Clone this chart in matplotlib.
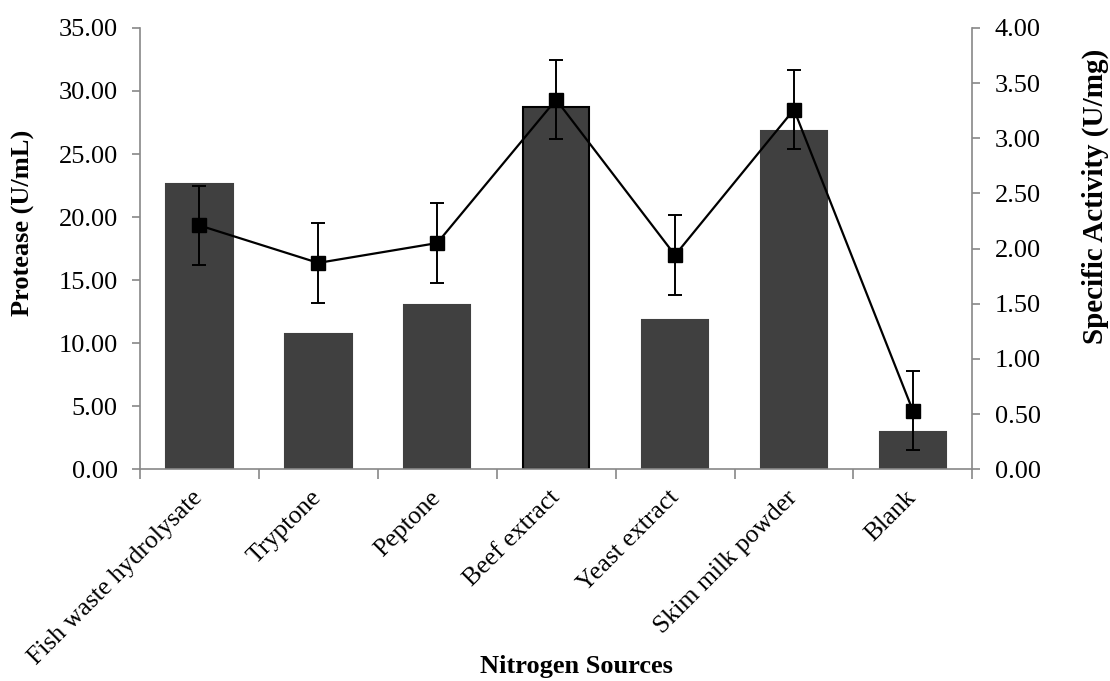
import numpy as np
import matplotlib.pyplot as plt

plt.rcParams['font.family'] = ['Liberation Serif', 'DejaVu Serif']

sources = ['Fish waste hydrolysate', 'Tryptone', 'Peptone', 'Beef extract',
           'Yeast extract', 'Skim milk powder', 'Blank']
protease = [22.6, 10.7, 13.05, 28.75, 11.85, 26.85, 2.95]
specific_activity = [2.21, 1.87, 2.05, 3.35, 1.94, 3.26, 0.53]
sa_err = [0.36, 0.36, 0.36, 0.36, 0.36, 0.36, 0.36]

fig = plt.figure(figsize=(11.1, 6.81), dpi=100)
ax = fig.add_axes([0.126, 0.311, 0.75, 0.648])
ax2 = ax.twinx()

x = np.arange(len(sources))
edges = ['black' if s == 'Beef extract' else '#404040' for s in sources]
ax.bar(x, protease, width=0.56, color='#404040', edgecolor=edges, linewidth=1.5, zorder=2)

ax2.errorbar(x, specific_activity, yerr=sa_err, color='black', marker='s',
             markersize=10, linewidth=1.6, elinewidth=1.4, capsize=5, capthick=1.4, zorder=3)

ax.set_xlim(-0.5, len(sources) - 0.5)
ax.set_ylim(0, 35)
ax2.set_ylim(0, 4)
ax.set_yticks(np.arange(0, 35.1, 5))
ax.set_yticklabels([f'{v:.2f}' for v in np.arange(0, 35.1, 5)])
ax2.set_yticks(np.arange(0, 4.01, 0.5))
ax2.set_yticklabels([f'{v:.2f}' for v in np.arange(0, 4.01, 0.5)])

# category labels centered, tick marks at boundaries
ax.set_xticks(x)
ax.set_xticklabels(sources, rotation=45, ha='right', va='center',
                   rotation_mode='anchor', fontsize=18.5)
ax.tick_params(axis='x', which='major', length=0, pad=18)
ax.set_xticks(np.arange(-0.5, len(sources), 1), minor=True)
ax.tick_params(axis='x', which='minor', length=7, color='#888888', width=1.2)

for a in (ax, ax2):
    a.spines['top'].set_visible(False)
    for s in ('left', 'right', 'bottom'):
        a.spines[s].set_color('#888888')
        a.spines[s].set_linewidth(1.2)
    a.tick_params(axis='y', labelsize=19, length=6, color='#888888', width=1.2, pad=10)
ax2.spines['left'].set_visible(False)
ax2.spines['bottom'].set_visible(False)
ax.spines['right'].set_visible(False)

ax.set_ylabel('Protease (U/mL)', fontsize=19, fontweight='bold')
ax.yaxis.set_label_coords(-0.126, 0.558)
ax2.set_ylabel('Specific Activity (U/mg)', fontsize=21, fontweight='bold')
ax2.yaxis.set_label_coords(1.131, 0.618)
ax.set_xlabel('Nitrogen Sources', fontsize=19, fontweight='bold')
ax.xaxis.set_label_coords(0.524, -0.422)

fig.savefig('out.png', dpi=100)
